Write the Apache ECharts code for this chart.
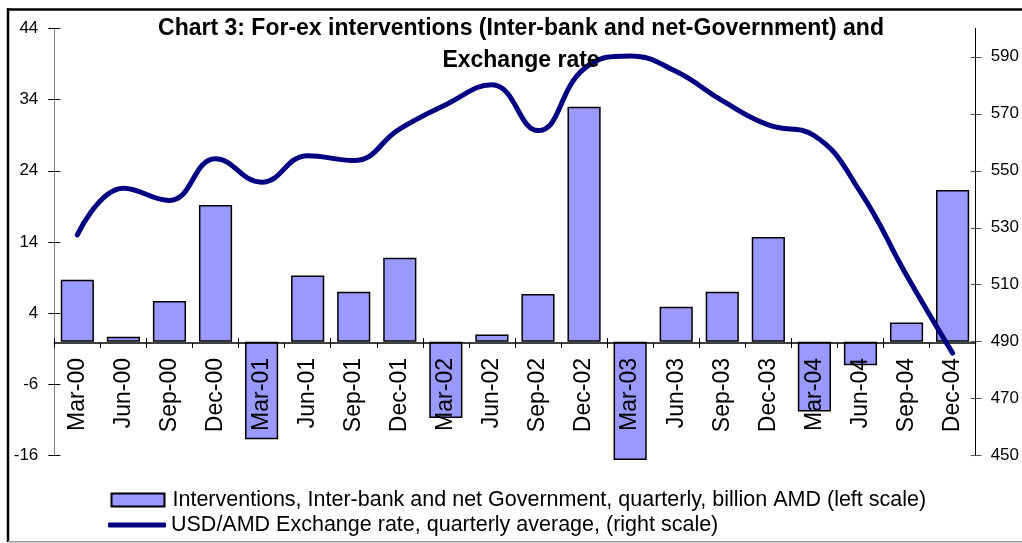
<!DOCTYPE html>
<html>
<head>
<meta charset="utf-8">
<script src="https://cdn.jsdelivr.net/npm/echarts@6/dist/echarts.min.js"></script>
<style>
  html, body { margin: 0; padding: 0; background: #fff; }
  #chart { width: 1022px; height: 543px; }
</style>
</head>
<body>
<div id="chart"></div>
<script>
// Quarterly periods
const quarters = ['Mar-00', 'Jun-00', 'Sep-00', 'Dec-00', 'Mar-01', 'Jun-01', 'Sep-01', 'Dec-01',
  'Mar-02', 'Jun-02', 'Sep-02', 'Dec-02', 'Mar-03', 'Jun-03', 'Sep-03', 'Dec-03',
  'Mar-04', 'Jun-04', 'Sep-04', 'Dec-04'];

// Interventions, inter-bank and net Government, billion AMD (left scale)
const interventions = [8.7, 0.7, 5.7, 19.2, -13.7, 9.3, 7.0, 11.8, -10.7, 1.0,
  6.7, 33.0, -16.6, 4.9, 7.0, 14.7, -9.8, -3.3, 2.7, 21.3];

// USD/AMD exchange rate, quarterly average (right scale)
const exchangeRate = [527.5, 543.9, 539.6, 554.2, 546.0, 555.3, 553.6, 564.7, 573.2, 580.2,
  564.1, 585.8, 590.3, 584.8, 574.6, 566.1, 562.3, 542.5, 513.3, 486.0];

// Axis ticks
const leftTicks = [-16, -6, 4, 14, 24, 34, 44];
const rightTicks = [450, 470, 490, 510, 530, 550, 570, 590];

const barName = 'Interventions, Inter-bank and net Government, quarterly, billion AMD (left scale)';
const lineName = 'USD/AMD Exchange rate, quarterly average, (right scale)';
const titleText = 'Chart 3: For-ex interventions (Inter-bank and net-Government) and\nExchange rate';

const FONT = '"Liberation Sans", Arial, Helvetica, sans-serif';

const chart = echarts.init(document.getElementById('chart'), null, { renderer: 'canvas' });

const valueAxisBase = (min, max, ticks) => ({
  type: 'value',
  min: min,
  max: max,
  splitLine: { show: false },
  axisLabel: { customValues: ticks },
  axisTick: { customValues: ticks }
});

const legendText = { fontFamily: FONT, fontSize: 21.5, color: '#000', lineHeight: 22 };

chart.setOption({
  animation: false,
  backgroundColor: '#ffffff',
  grid: { left: 54.3, right: 45.3, top: 28.3, bottom: 87.3, containLabel: false },
  graphic: [
    { type: 'line', shape: { x1: 7, y1: 9.5, x2: 1022, y2: 9.5 }, style: { stroke: '#000', lineWidth: 2.5 }, z: 100 },
    { type: 'line', shape: { x1: 8, y1: 8.3, x2: 8, y2: 542 }, style: { stroke: '#000', lineWidth: 2.5 }, z: 100 },
    { type: 'line', shape: { x1: 8, y1: 541.8, x2: 1022, y2: 541.8 }, style: { stroke: '#9a9a9a', lineWidth: 1.5 }, z: 100 },
    {
      type: 'text', x: 521, y: 13, z: 100,
      style: {
        text: titleText, fill: '#000', font: 'bold 23px ' + FONT,
        textAlign: 'center', textVerticalAlign: 'top', lineHeight: 32
      }
    }
  ],
  legend: [
    {
      orient: 'vertical',
      left: 105.5,
      top: 484,
      itemWidth: 53,
      itemHeight: 13,
      textStyle: Object.assign({ padding: [0, 0, 0, 3] }, legendText),
      data: [{ name: barName, icon: 'rect' }]
    },
    {
      orient: 'vertical',
      left: 103,
      top: 509,
      itemWidth: 58,
      itemHeight: 5,
      itemStyle: { color: '#000080', borderWidth: 0 },
      textStyle: Object.assign({ padding: [0, 0, 0, 0] }, legendText),
      data: [{ name: lineName, icon: 'roundRect' }]
    }
  ],
  xAxis: [
    {
      type: 'category',
      data: quarters,
      boundaryGap: true,
      position: 'bottom',
      offset: 0,
      z: 5,
      axisLine: { onZero: false, lineStyle: { color: '#000', width: 1.5 } },
      axisTick: { show: true, inside: false, length: 5, lineStyle: { color: '#000', width: 1 } },
      axisLabel: {
        interval: 0, rotate: 90, margin: 15,
        fontFamily: FONT, fontSize: 23, color: '#000'
      }
    },
    {
      type: 'category',
      data: quarters,
      boundaryGap: true,
      position: 'bottom',
      offset: 0,
      z: 5,
      axisLine: { show: false, onZero: false },
      axisTick: { show: true, inside: true, length: 5, lineStyle: { color: '#000', width: 1 } },
      axisLabel: { show: false }
    }
  ],
  yAxis: [
    Object.assign(valueAxisBase(-16, 44, leftTicks), {
      position: 'left',
      axisLine: { show: true, onZero: false, lineStyle: { color: '#808080', width: 1 } },
      axisTick: { show: true, customValues: leftTicks, length: 6, lineStyle: { color: '#000', width: 1 } },
      axisLabel: { customValues: leftTicks, margin: 16, fontFamily: FONT, fontSize: 17, color: '#000' }
    }),
    Object.assign(valueAxisBase(450, 600, rightTicks), {
      position: 'right',
      axisLine: { show: true, onZero: false, lineStyle: { color: '#000', width: 1 } },
      axisTick: { show: true, customValues: rightTicks, length: 6, lineStyle: { color: '#555', width: 1 } },
      axisLabel: { customValues: rightTicks, margin: 15, fontFamily: FONT, fontSize: 17, color: '#000' }
    }),
    Object.assign(valueAxisBase(-16, 44, leftTicks), {
      position: 'left',
      axisLine: { show: false, onZero: false },
      axisTick: { show: true, inside: true, customValues: leftTicks, length: 6, lineStyle: { color: '#000', width: 1 } },
      axisLabel: { show: false }
    }),
    Object.assign(valueAxisBase(450, 600, rightTicks), {
      position: 'right',
      axisLine: { show: false, onZero: false },
      axisTick: { show: true, inside: true, customValues: rightTicks, length: 5, lineStyle: { color: '#555', width: 1 } },
      axisLabel: { show: false }
    })
  ],
  series: [
    {
      name: barName,
      type: 'bar',
      xAxisIndex: 0,
      yAxisIndex: 0,
      data: interventions,
      barCategoryGap: '28%',
      clip: false,
      z: 2,
      itemStyle: { color: '#9999ff', borderColor: '#000', borderWidth: 1.5 }
    },
    {
      name: lineName,
      type: 'line',
      xAxisIndex: 0,
      yAxisIndex: 1,
      data: exchangeRate,
      smooth: 0.45,
      symbol: 'none',
      clip: false,
      z: 8,
      lineStyle: { color: '#000080', width: 5, cap: 'round', join: 'round' },
      itemStyle: { color: '#000080' }
    }
  ]
});

// Lift the category axis from the bottom edge of the grid onto the zero line of the left scale.
const zeroY = chart.convertToPixel({ yAxisIndex: 0 }, 0);
const bottomY = chart.convertToPixel({ yAxisIndex: 0 }, -16);
const lift = zeroY - bottomY;
chart.setOption({ xAxis: [{ offset: lift }, { offset: lift }] });
</script>
</body>
</html>
